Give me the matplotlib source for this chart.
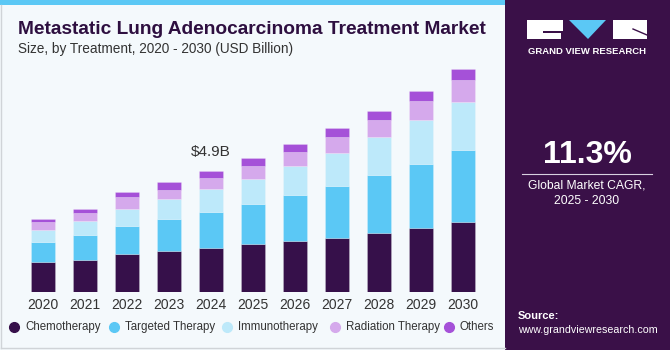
import matplotlib
matplotlib.use("Agg")
import matplotlib.pyplot as plt
import numpy as np
from matplotlib.patches import Rectangle, Polygon
from matplotlib.lines import Line2D

# ---------------- data ----------------
years = ["2020", "2021", "2022", "2023", "2024", "2025", "2026", "2027", "2028", "2029", "2030"]
chemotherapy = [1.20, 1.29, 1.52, 1.64, 1.78, 1.92, 2.06, 2.19, 2.40, 2.57, 2.84]
targeted = [0.81, 1.00, 1.16, 1.32, 1.44, 1.62, 1.87, 2.07, 2.34, 2.61, 2.91]
immunotherapy = [0.48, 0.57, 0.67, 0.78, 0.93, 1.04, 1.16, 1.36, 1.52, 1.75, 1.92]
radiation = [0.32, 0.34, 0.47, 0.39, 0.47, 0.52, 0.58, 0.65, 0.70, 0.77, 0.87]
others = [0.13, 0.17, 0.22, 0.31, 0.28, 0.32, 0.31, 0.36, 0.36, 0.43, 0.46]
series_names = ["Chemotherapy", "Targeted Therapy", "Immunotherapy", "Radiation Therapy", "Others"]
series_colors = ["#36104A", "#5BC8F5", "#BDE9FA", "#D5A9EC", "#A551D8"]
annot_index = 4
annot_text = "$4.9B"

plt.rcParams['font.family'] = ['Liberation Sans', 'DejaVu Sans']
W, H = 670, 350
fig = plt.figure(figsize=(W / 100, H / 100), dpi=100)
fig.patch.set_facecolor("#F4F9FC")


def fx(px):
    return px / W


def fy(py):
    return 1 - py / H


# top stripe
fig.add_artist(Rectangle((0, fy(5)), fx(505), 5 / H, transform=fig.transFigure,
                         facecolor="#5BC8F5", edgecolor="none"))
# left border lines
fig.add_artist(Line2D([fx(1), fx(1)], [fy(5), fy(348)], transform=fig.transFigure, color="#D0D4D8", lw=1))
fig.add_artist(Line2D([fx(1), fx(505)], [fy(348), fy(348)], transform=fig.transFigure, color="#D0D4D8", lw=1))

# ---------------- chart ----------------
ax = fig.add_axes([fx(22), fy(292), fx(484) - fx(22), (292 - 44.3) / H])
ax.set_facecolor("none")
x = np.arange(len(years))
data = [chemotherapy, targeted, immunotherapy, radiation, others]
bottom = np.zeros(len(years))
for vals, name, col in zip(data, series_names, series_colors):
    ax.bar(x, vals, width=0.58, bottom=bottom, color=col, label=name,
           edgecolor=(1, 1, 1, 0.35), linewidth=0.4)
    bottom = bottom + np.array(vals)

ax.set_xlim(-0.5, len(years) - 0.5)
ax.set_ylim(0, 10)
for s in ax.spines.values():
    s.set_visible(False)
ax.set_yticks([])
ax.set_xticks(x)
ax.set_xticklabels(years, fontsize=10, color="#333333")
ax.tick_params(axis="x", length=0, pad=4)
ax.text(x[annot_index], bottom[annot_index] + 0.45, annot_text, ha="center", va="bottom",
        fontsize=11, color="#333333")

# ---------------- titles ----------------
fig.text(fx(18), fy(30), "Metastatic Lung Adenocarcinoma Treatment Market", fontsize=13.8,
         fontweight="bold", color="#2E0F40", ha="left", va="center")
fig.text(fx(18), fy(49), "Size, by Treatment, 2020 - 2030 (USD Billion)", fontsize=9.8,
         color="#333333", ha="left", va="center")

# ---------------- legend ----------------
leg_dot_x = [14, 114, 227, 335, 449]
for px, name, col in zip(leg_dot_x, series_names, series_colors):
    fig.add_artist(Line2D([fx(px)], [fy(327)], transform=fig.transFigure, marker="o",
                          markersize=7, color=col, linestyle="none"))
    fig.text(fx(px + 11), fy(327), name, fontsize=8.3, color="#333333", ha="left", va="center")

# ---------------- right panel ----------------
fig.add_artist(Rectangle((fx(505), 0), fx(670) - fx(505), 1, transform=fig.transFigure,
                         facecolor="#3A1048", edgecolor="none"))
gax = fig.add_axes([fx(505), 0, fx(670) - fx(505), 75 / H])
grad = np.linspace(0, 1, 100)[:, None]
c0 = np.array([0x3A, 0x10, 0x48]) / 255
c1 = np.array([0x5A, 0x9C, 0xC8]) / 255
img = (c0[None, None, :] * (1 - grad[..., None] ** 1.5) + c1[None, None, :] * grad[..., None] ** 1.5)
gax.imshow(img[::-1], aspect="auto", extent=[0, 1, 0, 1])
for i in range(12):
    xx = i / 11
    gax.plot([xx, 0.5 + (xx - 0.5) * 2.2], [1, 0], color="white", alpha=0.12, lw=0.6)
for yy in [0.15, 0.3, 0.45, 0.6, 0.75]:
    gax.plot([0, 1], [yy, yy], color="white", alpha=0.10, lw=0.6)
gax.set_xlim(0, 1)
gax.set_ylim(0, 1)
gax.axis("off")

# logo
white = "#FFFFFF"
fig.add_artist(Rectangle((fx(527), fy(39)), fx(36), 19 / H, transform=fig.transFigure,
                         facecolor=white, edgecolor="none"))
fig.add_artist(Rectangle((fx(543), fy(33)), fx(20), 1.5 / H, transform=fig.transFigure,
                         facecolor="#3A1048", edgecolor="none"))
fig.add_artist(Rectangle((fx(561), fy(39)), fx(2), 6 / H, transform=fig.transFigure,
                         facecolor="#3A1048", edgecolor="none"))
fig.add_artist(Polygon([(fx(569), fy(20)), (fx(606), fy(20)), (fx(588), fy(39))], closed=True,
                       transform=fig.transFigure, facecolor="#5BC8F5", edgecolor="none"))
fig.add_artist(Rectangle((fx(613), fy(39)), fx(34), 19 / H, transform=fig.transFigure,
                         facecolor=white, edgecolor="none"))
fig.add_artist(Line2D([fx(633), fx(647)], [fy(29), fy(35)], transform=fig.transFigure,
                      color="#3A1048", lw=1))
fig.text(fx(587), fy(51), "GRAND VIEW RESEARCH", fontsize=6.8, fontweight="bold", color=white,
         ha="center", va="center")

fig.text(fx(587), fy(155), "11.3%", fontsize=23, fontweight="bold", color=white, ha="center", va="center")
fig.add_artist(Line2D([fx(522), fx(652)], [fy(173.5), fy(173.5)], transform=fig.transFigure,
                      color="#D8D0E0", lw=0.8))
fig.text(fx(587), fy(185), "Global Market CAGR,", fontsize=8.7, color=white, ha="center", va="center")
fig.text(fx(587), fy(201), "2025 - 2030", fontsize=8.7, color=white, ha="center", va="center")
fig.text(fx(518), fy(316), "Source:", fontsize=8, fontweight="bold", color=white, ha="left", va="center")
fig.text(fx(518), fy(330), "www.grandviewresearch.com", fontsize=7.7, color=white, ha="left", va="center")

fig.savefig("out.png", dpi=100, facecolor=fig.get_facecolor())
